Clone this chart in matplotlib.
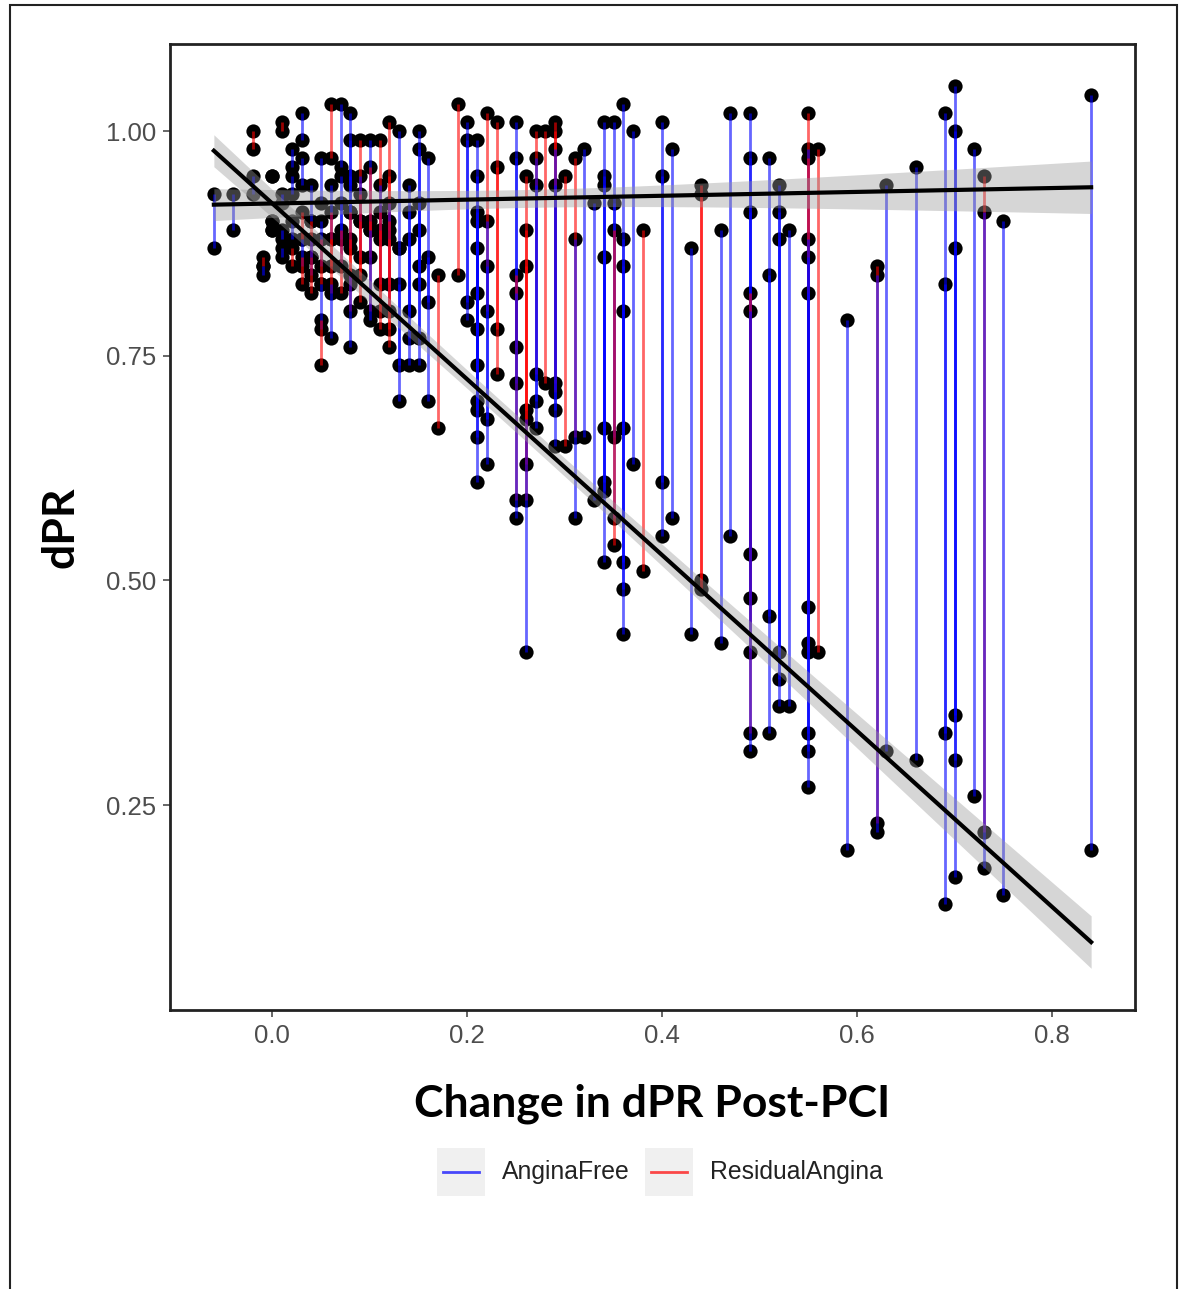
import numpy as np
import matplotlib
matplotlib.use("Agg")
import matplotlib.pyplot as plt
from matplotlib.lines import Line2D
from matplotlib.patches import Rectangle

# one entry per patient: change in dPR, dPR before / after PCI, symptom group
change = [
    -0.06, -0.04, -0.02, -0.02, -0.01, -0.01, 0.00, 0.00, 0.00,
    0.01, 0.01, 0.01, 0.01,
    0.02, 0.02, 0.02, 0.02,
    0.03, 0.03, 0.03, 0.03, 0.03,
    0.04, 0.04, 0.04, 0.04,
    0.05, 0.05, 0.05, 0.05, 0.05,
    0.06, 0.06, 0.06, 0.06, 0.06,
    0.07, 0.07, 0.07, 0.07,
    0.08, 0.08, 0.08, 0.08, 0.08, 0.08,
    0.09, 0.09, 0.09, 0.09,
    0.10, 0.10, 0.10, 0.10,
    0.11, 0.11, 0.11, 0.11,
    0.12, 0.12, 0.12, 0.12, 0.12,
    0.13, 0.13, 0.13,
    0.14, 0.14, 0.14,
    0.15, 0.15, 0.15, 0.15,
    0.16, 0.16, 0.17, 0.19, 0.20, 0.20,
    0.21, 0.21, 0.21, 0.21, 0.21, 0.21,
    0.22, 0.22, 0.22, 0.23, 0.23,
    0.25, 0.25, 0.25, 0.25,
    0.26, 0.26, 0.26, 0.26,
    0.27, 0.27, 0.27, 0.28,
    0.29, 0.29, 0.29, 0.29,
    0.30, 0.31, 0.31, 0.32, 0.33,
    0.34, 0.34, 0.34, 0.34,
    0.35, 0.35, 0.35,
    0.36, 0.36, 0.36, 0.36,
    0.37, 0.38, 0.40, 0.40, 0.41, 0.43, 0.44, 0.44, 0.46, 0.47,
    0.49, 0.49, 0.49, 0.49, 0.49,
    0.51, 0.51, 0.52, 0.52, 0.52, 0.53,
    0.55, 0.55, 0.55, 0.55, 0.55, 0.55,
    0.56, 0.59, 0.62, 0.62, 0.63, 0.66, 0.69, 0.69,
    0.70, 0.70, 0.70, 0.72, 0.73, 0.73, 0.75, 0.84,
]
dpr_pre = [
    0.93, 0.93, 1.00, 0.95, 0.86, 0.85, 0.95, 0.90, 0.89,
    1.00, 0.92, 0.88, 0.86,
    0.96, 0.93, 0.88, 0.85,
    0.99, 0.94, 0.88, 0.85, 0.83,
    0.90, 0.86, 0.84, 0.82,
    0.92, 0.85, 0.83, 0.78, 0.74,
    0.97, 0.88, 0.85, 0.82, 0.77,
    0.96, 0.88, 0.85, 0.82,
    0.94, 0.91, 0.87, 0.83, 0.80, 0.76,
    0.90, 0.86, 0.84, 0.81,
    0.89, 0.86, 0.80, 0.79,
    0.88, 0.83, 0.80, 0.78,
    0.89, 0.83, 0.80, 0.78, 0.76,
    0.87, 0.74, 0.70,
    0.80, 0.77, 0.74,
    0.85, 0.83, 0.77, 0.74,
    0.81, 0.70, 0.67, 0.84, 0.81, 0.79,
    0.78, 0.74, 0.70, 0.69, 0.66, 0.61,
    0.80, 0.68, 0.63, 0.78, 0.73,
    0.76, 0.72, 0.59, 0.57,
    0.69, 0.63, 0.59, 0.42,
    0.73, 0.70, 0.67, 0.72,
    0.72, 0.71, 0.69, 0.65,
    0.65, 0.66, 0.57, 0.66, 0.59,
    0.67, 0.61, 0.60, 0.52,
    0.66, 0.57, 0.54,
    0.67, 0.52, 0.49, 0.44,
    0.63, 0.51, 0.61, 0.55, 0.57, 0.44, 0.50, 0.49, 0.43, 0.55,
    0.53, 0.48, 0.42, 0.33, 0.31,
    0.46, 0.33, 0.42, 0.39, 0.36, 0.36,
    0.47, 0.43, 0.42, 0.33, 0.31, 0.27,
    0.42, 0.20, 0.23, 0.22, 0.31, 0.30, 0.33, 0.14,
    0.35, 0.30, 0.17, 0.26, 0.22, 0.18, 0.15, 0.20,
]
dpr_post = [
    0.87, 0.89, 0.98, 0.93, 0.85, 0.84, 0.95, 0.90, 0.89,
    1.01, 0.93, 0.89, 0.87,
    0.98, 0.95, 0.90, 0.87,
    1.02, 0.97, 0.91, 0.88, 0.86,
    0.94, 0.90, 0.88, 0.86,
    0.97, 0.90, 0.88, 0.83, 0.79,
    1.03, 0.94, 0.91, 0.88, 0.83,
    1.03, 0.95, 0.92, 0.89,
    1.02, 0.99, 0.95, 0.91, 0.88, 0.84,
    0.99, 0.95, 0.93, 0.90,
    0.99, 0.96, 0.90, 0.89,
    0.99, 0.94, 0.91, 0.89,
    1.01, 0.95, 0.92, 0.90, 0.88,
    1.00, 0.87, 0.83,
    0.94, 0.91, 0.88,
    1.00, 0.98, 0.92, 0.89,
    0.97, 0.86, 0.84, 1.03, 1.01, 0.99,
    0.99, 0.95, 0.91, 0.90, 0.87, 0.82,
    1.02, 0.90, 0.85, 1.01, 0.96,
    1.01, 0.97, 0.84, 0.82,
    0.95, 0.89, 0.85, 0.68,
    1.00, 0.97, 0.94, 1.00,
    1.01, 1.00, 0.98, 0.94,
    0.95, 0.97, 0.88, 0.98, 0.92,
    1.01, 0.95, 0.94, 0.86,
    1.01, 0.92, 0.89,
    1.03, 0.88, 0.85, 0.80,
    1.00, 0.89, 1.01, 0.95, 0.98, 0.87, 0.94, 0.93, 0.89, 1.02,
    1.02, 0.97, 0.91, 0.82, 0.80,
    0.97, 0.84, 0.94, 0.91, 0.88, 0.89,
    1.02, 0.98, 0.97, 0.88, 0.86, 0.82,
    0.98, 0.79, 0.85, 0.84, 0.94, 0.96, 1.02, 0.83,
    1.05, 1.00, 0.87, 0.98, 0.95, 0.91, 0.90, 1.04,
]
group = (
    "AARAR" "AAAA"
    "RAAA"
    "AAAR"
    "AARAR"
    "ARAR"
    "AARAR"
    "RARRA"
    "AAAR"
    "AAARRA"
    "RARR"
    "ARRA"
    "RARR"
    "RRARR"
    "AAA"
    "AAA"
    "AAAA"
    "AARRAA"
    "AAAAAA"
    "RAARR"
    "AARA"
    "RRRA"
    "RAAR"
    "RRAA"
    "RRAAA"
    "AAAA"
    "AAR"
    "AAAA"
    "ARAAAARRAA"
    "AAARA"
    "AAAAAA"
    "RARAAA"
    "RARAAAAA"
    "AAAARAAA"
)
group_names = {"A": "AnginaFree", "R": "ResidualAngina"}
group_colors = {"A": "#0000ff", "R": "#ff0000"}

change = np.array(change)
dpr_pre = np.array(dpr_pre)
dpr_post = np.array(dpr_post)


def lm_band(x, y, xs, tq=1.97):
    slope, icpt = np.polyfit(x, y, 1)
    resid = y - (icpt + slope * x)
    s = np.sqrt(np.sum(resid ** 2) / (len(x) - 2))
    sxx = np.sum((x - x.mean()) ** 2)
    fit = icpt + slope * xs
    se = s * np.sqrt(1 / len(x) + (xs - x.mean()) ** 2 / sxx)
    return fit, fit - tq * se, fit + tq * se


W, H = 1184, 1289
fig = plt.figure(figsize=(W / 100, H / 100), dpi=100)
ax = fig.add_axes([170 / W, 1 - 1010 / H, (1135 - 170) / W, (1010 - 44) / H])

ax.scatter(change, dpr_pre, s=105, color="black", zorder=2, linewidths=0)
ax.scatter(change, dpr_post, s=105, color="black", zorder=2, linewidths=0)
for cx, lo, hi, g in zip(change, dpr_pre, dpr_post, group):
    ax.plot([cx, cx], [lo, hi], color=group_colors[g], alpha=0.6, lw=2,
            solid_capstyle="butt", zorder=3)

xs = np.linspace(change.min(), change.max(), 100)
for yv in (dpr_pre, dpr_post):
    fit, lo, hi = lm_band(change, yv, xs)
    ax.fill_between(xs, lo, hi, color="#999999", alpha=0.4, lw=0, zorder=4)
    ax.plot(xs, fit, color="black", lw=3, zorder=5)

ax.set_xlim(-0.105, 0.885)
ax.set_ylim(0.022, 1.097)
ax.set_xticks([0.0, 0.2, 0.4, 0.6, 0.8])
ax.set_xticklabels(["0.0", "0.2", "0.4", "0.6", "0.8"])
ax.set_yticks([0.25, 0.50, 0.75, 1.00])
ax.set_yticklabels(["0.25", "0.50", "0.75", "1.00"])
ax.tick_params(labelsize=18.5, colors="#4d4d4d", labelcolor="#4d4d4d",
               length=5, width=1.2, pad=5)
for lab in ax.get_xticklabels() + ax.get_yticklabels():
    lab.set_family(["Liberation Sans", "DejaVu Sans"])
for sp in ax.spines.values():
    sp.set_linewidth(2)
    sp.set_color("#222222")

ax.set_xlabel("Change in dPR Post-PCI", fontsize=32, fontweight="bold",
              family=["Lato", "DejaVu Sans"], labelpad=26)
ax.set_ylabel("dPR", fontsize=32, fontweight="bold",
              family=["Lato", "DejaVu Sans"], labelpad=18)

# legend drawn in figure pixels, ggplot style with grey key boxes
keys = [("A", 437, 502), ("R", 645, 710)]
for g, kx, tx in keys:
    fig.add_artist(Rectangle((kx / W, 1 - 1196 / H), 48 / W, 48 / H,
                             transform=fig.transFigure, facecolor="#f0f0f0",
                             edgecolor="none"))
    fig.add_artist(Line2D([(kx + 6) / W, (kx + 42) / W],
                          [1 - 1172 / H, 1 - 1172 / H],
                          transform=fig.transFigure, color=group_colors[g],
                          alpha=0.7, lw=2))
    fig.text(tx / W, 1 - 1172 / H, group_names[g], fontsize=17.8,
             family=["Liberation Sans", "DejaVu Sans"], color="#222222",
             va="center", ha="left")

# outer frame of the panel
fig.add_artist(Rectangle((10 / W, -0.01), (1177 - 10) / W, 1 - 5 / H + 0.01,
                         transform=fig.transFigure, fill=False,
                         edgecolor="#222222", lw=1.5))

fig.savefig("out.png", dpi=100)
